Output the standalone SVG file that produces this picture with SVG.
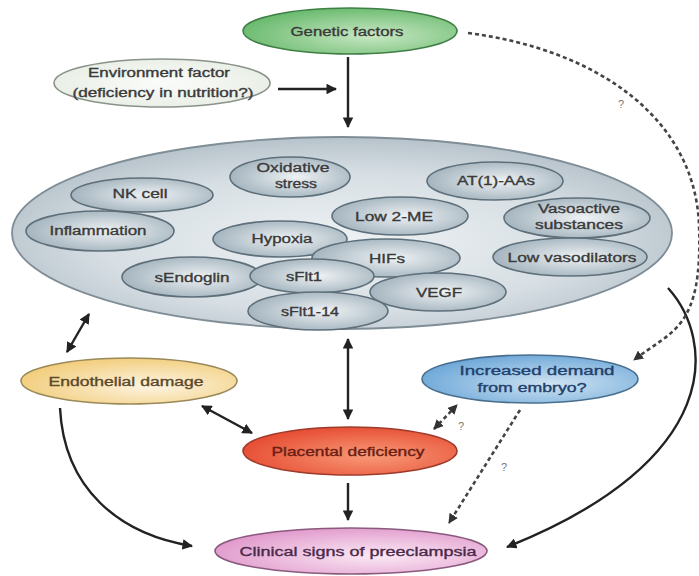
<svg xmlns="http://www.w3.org/2000/svg" width="699" height="576" viewBox="0 0 699 576">
<defs>
<radialGradient id="gGreen" cx="0.6" cy="0.6" r="0.7"><stop offset="0" stop-color="#c9e8c4"/><stop offset="1" stop-color="#5fb565"/></radialGradient>
<radialGradient id="gEnv" cx="0.5" cy="0.5" r="0.7"><stop offset="0" stop-color="#fbfcfa"/><stop offset="1" stop-color="#e3eadf"/></radialGradient>
<radialGradient id="gBig" cx="0.5" cy="0.55" r="0.6"><stop offset="0" stop-color="#eef2f4"/><stop offset="0.6" stop-color="#d7dfe4"/><stop offset="1" stop-color="#aebbc4"/></radialGradient>
<radialGradient id="gIn" cx="0.55" cy="0.5" r="0.6"><stop offset="0" stop-color="#eef2f4"/><stop offset="1" stop-color="#9eafba"/></radialGradient>
<radialGradient id="gYel" cx="0.6" cy="0.6" r="0.7"><stop offset="0" stop-color="#fdf4e2"/><stop offset="1" stop-color="#f1c970"/></radialGradient>
<radialGradient id="gRed" cx="0.6" cy="0.6" r="0.7"><stop offset="0" stop-color="#f99a78"/><stop offset="1" stop-color="#e4452c"/></radialGradient>
<radialGradient id="gPink" cx="0.6" cy="0.6" r="0.7"><stop offset="0" stop-color="#fbeaf5"/><stop offset="1" stop-color="#de92c8"/></radialGradient>
<radialGradient id="gBlue" cx="0.6" cy="0.6" r="0.7"><stop offset="0" stop-color="#cfe3f2"/><stop offset="1" stop-color="#64a2d6"/></radialGradient>
<marker id="ah" viewBox="0 0 10 10" refX="9" refY="5" markerWidth="4.4" markerHeight="4.4" orient="auto-start-reverse" markerUnits="strokeWidth"><path d="M0,0 L10,5 L0,10 z" fill="#222"/></marker>
<marker id="ahd" viewBox="0 0 10 10" refX="9" refY="5" markerWidth="3.8" markerHeight="3.8" orient="auto-start-reverse" markerUnits="strokeWidth"><path d="M0,0 L10,5 L0,10 z" fill="#333"/></marker>
</defs>
<style>
text{font-family:"Liberation Sans",Arial,sans-serif;font-size:12.5px;fill:#3a3a3a;stroke:#3a3a3a;stroke-width:0.35;text-anchor:middle}
.in{fill:url(#gIn);stroke:#5e6f7a;stroke-width:1.6}
.solid{fill:none;stroke:#222;stroke-width:2.4}
.dash{fill:none;stroke:#444;stroke-width:2.6;stroke-dasharray:4 3}
text.q{font-size:11px;fill:#777;stroke:none}
</style>
<rect width="699" height="576" fill="#ffffff"/>

<g id="connectors">
<path class="solid" d="M348,57 L348,127" marker-end="url(#ah)"/>
<path class="solid" d="M278,89 L336,89" marker-end="url(#ah)"/>
<path class="solid" d="M348,339 L348,419" marker-start="url(#ah)" marker-end="url(#ah)"/>
<path class="solid" d="M348,483 L348,520" marker-end="url(#ah)"/>
<path class="solid" d="M89,314 L67,352" marker-start="url(#ah)" marker-end="url(#ah)"/>
<path class="solid" d="M202,406 L252,433" marker-start="url(#ah)" marker-end="url(#ah)"/>
<path class="solid" d="M60,408 C64,488 118,534 192,546" marker-end="url(#ah)"/>
<path class="solid" d="M668,288 C715,340 725,460 507,547" marker-end="url(#ah)"/>
<path class="dash" d="M468,33 C600,50 695,120 699,225 S672,330 634,360" marker-end="url(#ahd)"/>
<path class="dash" d="M434,429 L457,405" marker-start="url(#ahd)" marker-end="url(#ahd)"/>
<path class="dash" d="M520,410 L449,523" marker-end="url(#ahd)"/>
<text class="q" x="621" y="108">?</text>
<text class="q" x="461" y="430">?</text>
<text class="q" x="504" y="471">?</text>
</g>

<g id="genetic">
<ellipse cx="350" cy="31" rx="107" ry="23" fill="url(#gGreen)" stroke="#3f7f45" stroke-width="1.6"/>
<text x="347" y="36" textLength="113" lengthAdjust="spacingAndGlyphs">Genetic factors</text>
</g>
<g id="environment">
<ellipse cx="162" cy="83" rx="108" ry="24" fill="url(#gEnv)" stroke="#8a938a" stroke-width="1.6"/>
<text x="159" y="77" textLength="142" lengthAdjust="spacingAndGlyphs">Environment factor</text>
<text x="163" y="97" textLength="181" lengthAdjust="spacingAndGlyphs">(deficiency in nutrition?)</text>
</g>

<g id="mechanisms">
<ellipse cx="342" cy="233" rx="330" ry="96" fill="url(#gBig)" stroke="#7f8d96" stroke-width="1.8"/>
<g id="oxidative"><ellipse class="in" cx="290" cy="177" rx="60" ry="20"/>
<text x="293" y="172" textLength="73" lengthAdjust="spacingAndGlyphs">Oxidative</text>
<text x="296" y="188" textLength="42" lengthAdjust="spacingAndGlyphs">stress</text></g>
<g id="nkcell"><ellipse class="in" cx="142" cy="195" rx="71" ry="17"/>
<text x="140" y="198" textLength="55" lengthAdjust="spacingAndGlyphs">NK cell</text></g>
<g id="inflammation"><ellipse class="in" cx="100" cy="231" rx="74" ry="20"/>
<text x="98" y="235" textLength="97" lengthAdjust="spacingAndGlyphs">Inflammation</text></g>
<g id="at1"><ellipse class="in" cx="495" cy="181" rx="68" ry="19"/>
<text x="496" y="185" textLength="78" lengthAdjust="spacingAndGlyphs">AT(1)-AAs</text></g>
<g id="vasoactive"><ellipse class="in" cx="577" cy="218" rx="73" ry="20"/>
<text x="579" y="213" textLength="82" lengthAdjust="spacingAndGlyphs">Vasoactive</text>
<text x="579" y="229" textLength="88" lengthAdjust="spacingAndGlyphs">substances</text></g>
<g id="lowvaso"><ellipse class="in" cx="570" cy="257" rx="77" ry="19"/>
<text x="572" y="262" textLength="129" lengthAdjust="spacingAndGlyphs">Low vasodilators</text></g>
<g id="low2me"><ellipse class="in" cx="400" cy="216" rx="68" ry="19"/>
<text x="394" y="221" textLength="78" lengthAdjust="spacingAndGlyphs">Low 2-ME</text></g>
<g id="hypoxia"><ellipse class="in" cx="280" cy="239" rx="67" ry="18"/>
<text x="282" y="243" textLength="61" lengthAdjust="spacingAndGlyphs">Hypoxia</text></g>
<g id="hifs"><ellipse class="in" cx="386" cy="258" rx="74" ry="19"/>
<text x="387" y="263" textLength="36" lengthAdjust="spacingAndGlyphs">HIFs</text></g>
<g id="sendoglin"><ellipse class="in" cx="192" cy="277" rx="70" ry="20"/>
<text x="192" y="282" textLength="75" lengthAdjust="spacingAndGlyphs">sEndoglin</text></g>
<g id="sflt1"><ellipse class="in" cx="312" cy="276" rx="62" ry="17"/>
<text x="304" y="281" textLength="36" lengthAdjust="spacingAndGlyphs">sFlt1</text></g>
<g id="vegf"><ellipse class="in" cx="438" cy="292" rx="68" ry="19"/>
<text x="439" y="297" textLength="46" lengthAdjust="spacingAndGlyphs">VEGF</text></g>
<g id="sflt114"><ellipse class="in" cx="318" cy="311" rx="70" ry="19"/>
<text x="310" y="316" textLength="58" lengthAdjust="spacingAndGlyphs">sFlt1-14</text></g>
</g>

<g id="endothelial">
<ellipse cx="129" cy="381" rx="108" ry="23" fill="url(#gYel)" stroke="#9a8a5a" stroke-width="1.6"/>
<text x="126" y="386" textLength="155" lengthAdjust="spacingAndGlyphs" style="fill:#5a4a2a;stroke:#5a4a2a">Endothelial damage</text>
</g>
<g id="placental">
<ellipse cx="350" cy="451" rx="107" ry="24" fill="url(#gRed)" stroke="#9e3a2a" stroke-width="1.6"/>
<text x="348" y="456" textLength="153" lengthAdjust="spacingAndGlyphs" style="fill:#6a1e14;stroke:#6a1e14">Placental deficiency</text>
</g>
<g id="demand">
<ellipse cx="530" cy="379" rx="108" ry="24" fill="url(#gBlue)" stroke="#4a6f8e" stroke-width="1.6"/>
<text x="537" y="375" textLength="155" lengthAdjust="spacingAndGlyphs" style="fill:#22406a;stroke:#22406a">Increased demand</text>
<text x="532" y="392" textLength="109" lengthAdjust="spacingAndGlyphs" style="fill:#22406a;stroke:#22406a">from embryo?</text>
</g>
<g id="clinical">
<ellipse cx="351" cy="551" rx="136" ry="23" fill="url(#gPink)" stroke="#8a5a7e" stroke-width="1.6"/>
<text x="358" y="556" textLength="237" lengthAdjust="spacingAndGlyphs" style="fill:#4a2a4a;stroke:#4a2a4a">Clinical signs of preeclampsia</text>
</g>
</svg>
